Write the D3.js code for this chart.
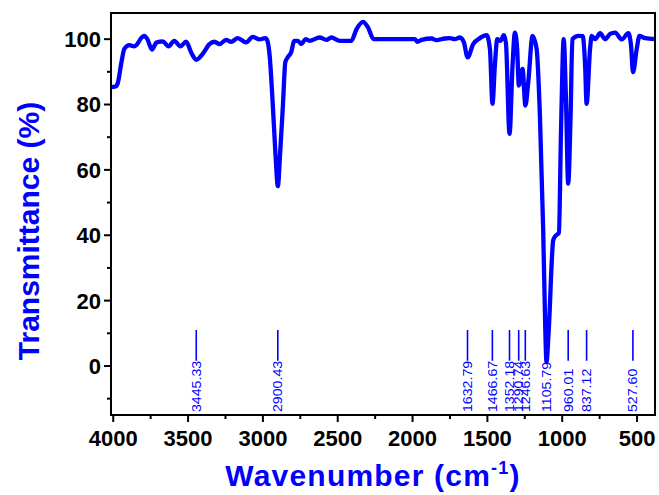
<!DOCTYPE html>
<html>
<head>
<meta charset="utf-8">
<script src="https://cdn.jsdelivr.net/npm/d3@7"></script>
<style>
  body { margin: 0; background: #fff; }
  svg { display: block; }
  .tick-label { font-family: "Liberation Sans", Arial, sans-serif; font-weight: bold; font-size: 22px; fill: #000; }
  .title { font-family: "Liberation Sans", Arial, sans-serif; font-weight: bold; font-size: 30px; fill: #0000ff; }
  .peak-label { font-family: "Liberation Sans", Arial, sans-serif; font-size: 12px; fill: #0000ff; }
</style>
</head>
<body>
<div id="chart"></div>
<script>
// FTIR spectrum
const wavenumber = [
  4015, 3985, 3970, 3945, 3926, 3893, 3860, 3845, 3810, 3792, 3772, 3741, 3715, 3703, 3670,
  3630, 3592, 3552, 3513, 3480, 3445, 3402, 3357, 3324, 3290, 3246, 3212, 3168, 3112, 3068,
  3023, 2983, 2970, 2955, 2934, 2915, 2900, 2885, 2866, 2850, 2833, 2811, 2790, 2766, 2744,
  2715, 2688, 2621, 2576, 2543, 2487, 2409, 2375, 2331, 2298, 2260, 2197, 2019, 1985, 1967,
  1940, 1873, 1840, 1784, 1751, 1718, 1684, 1657, 1632, 1595, 1550, 1505, 1483, 1466, 1450,
  1434, 1412, 1390, 1376, 1352, 1332, 1316, 1301, 1290, 1265, 1246, 1227, 1198, 1171, 1149,
  1127, 1113, 1105, 1090, 1060, 1045, 1022, 1008, 990, 975, 960, 944, 932, 892, 863,
  847, 837, 814, 803, 780, 747, 713, 680, 647, 602, 558, 540, 527, 502, 484,
  446, 380
];
const transmittance = [
  85.3, 85.5, 86.5, 93, 97, 98.2, 97.8, 98.2, 100.5, 101, 100, 96.8, 98.8, 99.1, 99.3,
  97.8, 99.5, 97.8, 99.2, 96, 93.7, 95.5, 98.5, 99.2, 98.5, 99.8, 99.2, 100.3, 99, 100.7,
  99.9, 100.3, 99.5, 95, 80, 64, 55, 65, 80, 93, 94.5, 96, 99.5, 99.5, 98.5,
  100, 99.5, 100.5, 99.8, 100.5, 99.5, 99.5, 103, 105.3, 103.6, 100, 100, 100, 100, 99.2,
  99.8, 100.2, 99.7, 100.2, 100.3, 100, 100.5, 99, 94.4, 98.5, 100.3, 101.2, 97, 80.2, 91.9,
  100, 99.5, 101.2, 98.8, 71, 91.9, 102, 97, 85.8, 90.9, 79.7, 86.8, 101, 97, 76.6,
  41.5, 11, 1.2, 11, 38.5, 39.8, 40.8, 72, 100, 81.8, 55.8, 76.6, 100, 101, 100.9,
  91.9, 80.2, 97, 101, 100, 101.8, 100, 101.6, 102, 99.9, 101.8, 98, 89.9, 97, 101,
  100.3, 100
];

// labelled bands
const peakPositions = [3445.33, 2900.43, 1632.79, 1466.67, 1352.18, 1290.74, 1246.63, 1105.79, 960.01, 837.12, 527.60];
const peakLabels = ["3445.33", "2900.43", "1632.79", "1466.67", "1352.18", "1290.74", "1246.63", "1105.79", "960.01", "837.12", "527.60"];

const xTicks = [4000, 3500, 3000, 2500, 2000, 1500, 1000, 500];
const yTicks = [0, 20, 40, 60, 80, 100];

const width = 659, height = 495;
const mLeft = 111, mRight = 655, mTop = 13, mBottom = 415;

const svg = d3.select("#chart").append("svg")
    .attr("width", width)
    .attr("height", height);

const x = d3.scaleLinear().domain([4015, 380]).range([mLeft, mRight]);
const y = d3.scaleLinear().domain([-15, 108]).range([mBottom, mTop]);

// peak markers
const markers = svg.append("g");
peakPositions.forEach((p, i) => {
    markers.append("line")
        .attr("x1", x(p)).attr("x2", x(p))
        .attr("y1", y(11)).attr("y2", y(1.6))
        .attr("stroke", "#0000ff")
        .attr("stroke-width", 1.6);
    // text is a bit narrow and tall in the original
    markers.append("text")
        .attr("class", "peak-label")
        .attr("transform", `translate(${x(p)},${mBottom - 3}) rotate(-90) scale(1.18,1)`)
        .attr("dy", "0.36em")
        .text(peakLabels[i]);
});

// spectrum
const data = wavenumber.map((w, i) => [w, transmittance[i]]);
const line = d3.line()
    .x(d => x(d[0]))
    .y(d => y(d[1]))
    .curve(d3.curveMonotoneX);

svg.append("path")
    .datum(data)
    .attr("fill", "none")
    .attr("stroke", "#0000ff")
    .attr("stroke-width", 4.3)
    .attr("stroke-linejoin", "round")
    .attr("d", line);

// frame
svg.append("rect")
    .attr("x", mLeft).attr("y", mTop)
    .attr("width", mRight - mLeft).attr("height", mBottom - mTop)
    .attr("fill", "none")
    .attr("stroke", "#000")
    .attr("stroke-width", 2);

// x axis
const xAxis = svg.append("g");
xTicks.forEach(t => {
    xAxis.append("line")
        .attr("x1", x(t)).attr("x2", x(t))
        .attr("y1", mBottom).attr("y2", mBottom + 7)
        .attr("stroke", "#000").attr("stroke-width", 2);
    xAxis.append("text")
        .attr("class", "tick-label")
        .attr("x", x(t)).attr("y", mBottom + 31)
        .attr("text-anchor", "middle")
        .text(t);
});
d3.range(3750, 500, -500).forEach(t => {
    xAxis.append("line")
        .attr("x1", x(t)).attr("x2", x(t))
        .attr("y1", mBottom).attr("y2", mBottom + 4)
        .attr("stroke", "#000").attr("stroke-width", 2);
});

// y axis
const yAxis = svg.append("g");
yTicks.forEach(t => {
    yAxis.append("line")
        .attr("x1", mLeft - 7).attr("x2", mLeft)
        .attr("y1", y(t)).attr("y2", y(t))
        .attr("stroke", "#000").attr("stroke-width", 2);
    yAxis.append("text")
        .attr("class", "tick-label")
        .attr("x", mLeft - 10).attr("y", y(t))
        .attr("dy", "0.36em")
        .attr("text-anchor", "end")
        .text(t);
});
d3.range(-10, 100, 20).forEach(t => {
    yAxis.append("line")
        .attr("x1", mLeft - 4).attr("x2", mLeft)
        .attr("y1", y(t)).attr("y2", y(t))
        .attr("stroke", "#000").attr("stroke-width", 2);
});

// titles
svg.append("text")
    .attr("class", "title")
    .attr("transform", `translate(39,${(mTop + mBottom) / 2 + 17}) rotate(-90)`)
    .attr("text-anchor", "middle")
    .text("Transmittance (%)");

const xt = svg.append("text")
    .attr("class", "title")
    .attr("x", 373).attr("y", 486)
    .attr("text-anchor", "middle")
    .style("letter-spacing", "1.2px")
    .text("Wavenumber (cm");
xt.append("tspan")
    .attr("font-size", "18px")
    .attr("dy", "-12")
    .text("-1");
xt.append("tspan")
    .attr("dy", "12")
    .text(")");
</script>
</body>
</html>
